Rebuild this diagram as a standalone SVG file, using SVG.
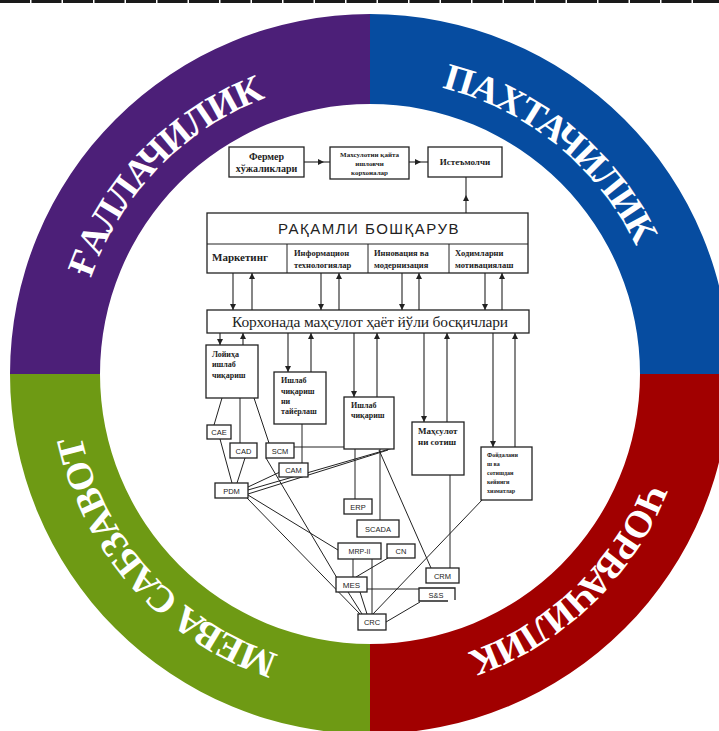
<svg xmlns="http://www.w3.org/2000/svg" width="719" height="731" viewBox="0 0 719 731">
<style>
.bx{fill:#fff;stroke:#222;stroke-width:1.3}
.ln{stroke:#222;stroke-width:1;fill:none}
.ar{stroke:#222;stroke-width:1.1;fill:none;marker-end:url(#ah)}
.am{stroke:#222;stroke-width:1.1;fill:none;marker-mid:url(#ah)}
.ring{font-family:"Liberation Serif","DejaVu Serif",serif;font-weight:bold;font-size:38px;letter-spacing:-1.5px;fill:#fff}
.sb{font-family:"Liberation Serif","DejaVu Serif",serif;font-weight:bold;fill:#222}
.sr{font-family:"Liberation Serif","DejaVu Serif",serif;fill:#222}
.ss{font-family:"Liberation Sans","DejaVu Sans",sans-serif;fill:#222;text-anchor:middle}
</style>
<defs>
<marker id="ah" viewBox="0 0 6 6" refX="6" refY="3" markerWidth="6" markerHeight="6" markerUnits="userSpaceOnUse" orient="auto">
<path d="M0,0 L6,3 L0,6 z" fill="#222"/>
</marker>
<path id="rp" d="M665 374 A295 295 0 1 1 75 374 A295 295 0 1 1 665 374"/>
</defs>
<rect width="719" height="731" fill="#fff"/>
<line x1="0" y1="1.5" x2="719" y2="1.5" stroke="#1a1a1a" stroke-width="3" stroke-dasharray="30 1.5"/>
<g id="ring">
<path d="M10 374 A360 360 0 0 1 370 14 L370 104 A270 270 0 0 0 100 374 Z" fill="#4c1f78"/>
<path d="M370 14 A360 360 0 0 1 730 374 L640 374 A270 270 0 0 0 370 104 Z" fill="#064ca0"/>
<path d="M730 374 A360 360 0 0 1 370 734 L370 644 A270 270 0 0 0 640 374 Z" fill="#a10000"/>
<path d="M370 734 A360 360 0 0 1 10 374 L100 374 A270 270 0 0 0 370 644 Z" fill="#6e9a14"/>
<text class="ring" text-anchor="middle"><textPath href="#rp" startOffset="1153">ҒАЛЛАЧИЛИК</textPath></text>
<text class="ring" text-anchor="middle"><textPath href="#rp" startOffset="1591">ПАХТАЧИЛИК</textPath></text>
<text class="ring" text-anchor="middle"><textPath href="#rp" startOffset="236">ЧОРВАЧИЛИК</textPath></text>
<text class="ring" text-anchor="middle"><textPath href="#rp" startOffset="710">МЕВА САБЗАВОТ</textPath></text>
</g>
<g id="connectors">
<path class="am" d="M304 162 L324 162 L330 162"/>
<path class="am" d="M409 162 L421 162 L428 162"/>
<path class="am" d="M466 213 L466 195 L466 177"/>
<line class="ar" x1="233" y1="273" x2="233" y2="310"/>
<line class="ar" x1="252" y1="310" x2="252" y2="273"/>
<line class="ar" x1="321" y1="273" x2="321" y2="310"/>
<line class="ar" x1="339" y1="310" x2="339" y2="273"/>
<line class="ar" x1="402" y1="273" x2="402" y2="310"/>
<line class="ar" x1="419" y1="310" x2="419" y2="273"/>
<line class="ar" x1="485" y1="273" x2="485" y2="310"/>
<line class="ar" x1="502" y1="310" x2="502" y2="273"/>
<line class="ar" x1="220" y1="333" x2="220" y2="345"/>
<line class="ar" x1="243" y1="345" x2="243" y2="333"/>
<line class="ar" x1="288" y1="333" x2="288" y2="372"/>
<line class="ar" x1="311" y1="372" x2="311" y2="333"/>
<line class="ar" x1="354" y1="333" x2="354" y2="397"/>
<line class="ar" x1="377" y1="397" x2="377" y2="333"/>
<line class="ar" x1="424" y1="333" x2="424" y2="422"/>
<line class="ar" x1="447" y1="422" x2="447" y2="333"/>
<line class="ar" x1="493" y1="333" x2="493" y2="447"/>
<line class="ar" x1="515" y1="447" x2="515" y2="333"/>
<line class="ln" x1="222" y1="398" x2="214" y2="425"/>
<line class="ln" x1="240" y1="398" x2="240" y2="443"/>
<line class="ln" x1="254" y1="398" x2="269" y2="443"/>
<line class="ln" x1="302" y1="424" x2="302" y2="463"/>
<line class="ln" x1="294" y1="447" x2="344" y2="447"/>
<line class="ln" x1="220" y1="439" x2="232" y2="483"/>
<line class="ln" x1="245" y1="458" x2="237" y2="483"/>
<line class="ln" x1="280" y1="472" x2="248" y2="487"/>
<line class="ln" x1="248" y1="490" x2="393" y2="448"/>
<line class="ln" x1="248" y1="494" x2="388" y2="450"/>
<line class="ln" x1="266" y1="458" x2="337" y2="578"/>
<line class="ln" x1="248" y1="495" x2="338" y2="550"/>
<line class="ln" x1="247" y1="498" x2="360" y2="614"/>
<line class="ln" x1="355" y1="449" x2="355" y2="499"/>
<line class="ln" x1="380" y1="449" x2="380" y2="520"/>
<line class="ln" x1="379" y1="450" x2="431" y2="568"/>
<line class="ln" x1="450" y1="475" x2="450" y2="568"/>
<line class="ln" x1="483" y1="499" x2="373" y2="614"/>
<line class="ln" x1="353" y1="559" x2="353" y2="577"/>
<line class="ln" x1="372" y1="559" x2="372" y2="614"/>
<line class="ln" x1="388" y1="558" x2="356" y2="577"/>
<line class="ln" x1="367" y1="589" x2="419" y2="589"/>
<line class="ln" x1="348" y1="592" x2="362" y2="614"/>
<line class="ln" x1="360" y1="592" x2="367" y2="614"/>
<line class="ln" x1="420" y1="602" x2="386" y2="622"/>
</g>
<g id="fermer"><rect class="bx" x="229" y="147" width="75" height="30"/>
<text class="sb" font-size="10" text-anchor="middle"><tspan x="266.5" y="160">Фермер</tspan><tspan x="266.5" y="172">хўжаликлари</tspan></text></g>
<g id="qayta"><rect class="bx" x="330" y="147" width="79" height="32"/>
<text class="sb" font-size="7" text-anchor="middle"><tspan x="369.5" y="157">Махсулотни қайта</tspan><tspan x="369.5" y="166">ишловчи</tspan><tspan x="369.5" y="175">корхоналар</tspan></text></g>
<g id="isteym"><rect class="bx" x="428" y="147" width="74" height="30"/>
<text class="sb" font-size="9" x="465" y="165" text-anchor="middle">Истеъмолчи</text></g>
<g id="raqamli"><rect class="bx" x="207" y="213" width="321" height="60"/>
<line class="ln" x1="207" y1="244" x2="528" y2="244"/>
<line class="ln" x1="287" y1="244" x2="287" y2="273"/>
<line class="ln" x1="368" y1="244" x2="368" y2="273"/>
<line class="ln" x1="449" y1="244" x2="449" y2="273"/>
<text x="369" y="234" font-family="Liberation Sans,DejaVu Sans,sans-serif" font-size="15" letter-spacing="1.5" text-anchor="middle" fill="#222">РАҚАМЛИ БОШҚАРУВ</text>
<text class="sb" font-size="11" x="212" y="261">Маркетинг</text>
<text class="sb" font-size="8.5"><tspan x="294" y="256">Информацион</tspan><tspan x="294" y="268">технологиялар</tspan></text>
<text class="sb" font-size="8.5"><tspan x="374" y="256">Инновация ва</tspan><tspan x="374" y="268">модернизация</tspan></text>
<text class="sb" font-size="8.5"><tspan x="455" y="256">Ходимларни</tspan><tspan x="455" y="268">мотивациялаш</tspan></text></g>
<g id="korxona"><rect class="bx" x="207" y="310" width="322" height="23"/>
<text class="sr" font-size="15.5" x="232" y="327" textLength="276">Корхонада маҳсулот ҳаёт йўли босқичлари</text></g>
<g id="loyiha"><rect class="bx" x="206" y="345" width="52" height="53"/>
<text class="sb" font-size="8"><tspan x="212" y="357">Лойиҳа</tspan><tspan x="212" y="367">ишлаб</tspan><tspan x="212" y="378">чиқариш</tspan></text></g>
<g id="tayyorlash"><rect class="bx" x="274" y="372" width="52" height="52"/>
<text class="sb" font-size="8"><tspan x="281" y="383">Ишлаб</tspan><tspan x="281" y="394">чиқариш</tspan><tspan x="281" y="404">ни</tspan><tspan x="281" y="414">тайёрлаш</tspan></text></g>
<g id="ishlab"><rect class="bx" x="344" y="397" width="50" height="52"/>
<text class="sb" font-size="8"><tspan x="351" y="408">Ишлаб</tspan><tspan x="351" y="418">чиқариш</tspan></text></g>
<g id="sotish"><rect class="bx" x="412" y="422" width="52" height="53"/>
<text class="sb" font-size="9"><tspan x="418" y="434">Маҳсулот</tspan><tspan x="418" y="445">ни сотиш</tspan></text></g>
<g id="foydalanish"><rect class="bx" x="481" y="447" width="51" height="53"/>
<text class="sb" font-size="6"><tspan x="487" y="457">Фойдалани</tspan><tspan x="487" y="466">ш ва</tspan><tspan x="487" y="475">сотишдан</tspan><tspan x="487" y="484">кейинги</tspan><tspan x="487" y="493">хизматлар</tspan></text></g>
<g id="cae"><rect class="bx" x="207" y="425" width="24" height="14"/><text class="ss" font-size="7.5" x="219" y="435">CAE</text></g>
<g id="cad"><rect class="bx" x="230" y="443" width="27" height="15"/><text class="ss" font-size="7.5" x="243.5" y="453.5">CAD</text></g>
<g id="scm"><rect class="bx" x="266" y="443" width="28" height="15"/><text class="ss" font-size="7.5" x="280" y="453.5">SCM</text></g>
<g id="cam"><rect class="bx" x="279" y="463" width="29" height="14"/><text class="ss" font-size="7.5" x="293.5" y="473">CAM</text></g>
<g id="pdm"><rect class="bx" x="215" y="483" width="33" height="15"/><text class="ss" font-size="7.5" x="231.5" y="493.5">PDM</text></g>
<g id="erp"><rect class="bx" x="344" y="499" width="28" height="15"/><text class="ss" font-size="7.5" x="358" y="509.5">ERP</text></g>
<g id="scada"><rect class="bx" x="357" y="520" width="42" height="17"/><text class="ss" font-size="7.5" x="378" y="531.5">SCADA</text></g>
<g id="mrp"><rect class="bx" x="338" y="543" width="43" height="16"/><text class="ss" font-size="7" x="359.5" y="554">MRP-II</text></g>
<g id="cn"><rect class="bx" x="387" y="544" width="28" height="14"/><text class="ss" font-size="7.5" x="401" y="554">CN</text></g>
<g id="mes"><rect class="bx" x="336" y="577" width="31" height="15"/><text class="ss" font-size="8" x="351.5" y="588">MES</text></g>
<g id="crm"><rect class="bx" x="426" y="568" width="33" height="15"/><text class="ss" font-size="7.5" x="442.5" y="578.5">CRM</text></g>
<g id="ss"><path class="bx" d="M448 601 L419 601 L419 588 L455 588 L455 600" fill="none"/><text class="ss" font-size="7.5" x="436" y="598">S&amp;S</text></g>
<g id="crc"><rect class="bx" x="358" y="614" width="28" height="16"/><text class="ss" font-size="7.5" x="372" y="625">CRC</text></g>
</svg>
